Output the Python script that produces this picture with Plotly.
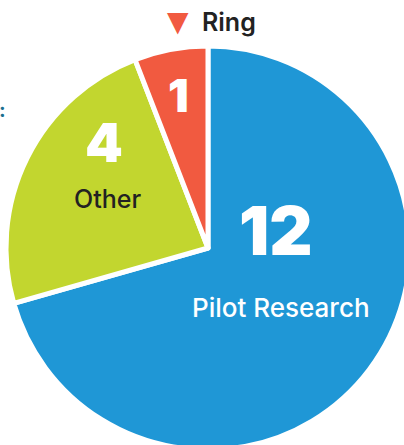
import plotly.graph_objects as go

labels = ["Pilot Research", "Other", "Ring"]
values = [12, 4, 1]
colors = ["#1F97D6", "#C2D62F", "#F15A40"]

W, H = 420, 500
R = 202  # pie radius in px
CX, CY = 208, 248  # pie centre in px from top-left

fig = go.Figure()
fig.add_trace(go.Pie(
    labels=labels, values=values, sort=False, direction="clockwise", rotation=0,
    marker=dict(colors=colors, line=dict(color="white", width=5)),
    textinfo="none", hoverinfo="label+value", showlegend=False,
    domain=dict(x=[(CX - R) / W, (CX + R) / W], y=[(H - CY - R) / H, (H - CY + R) / H]),
))

def px(x, y):
    return x / W, 1 - y / H

num_font = "Inter, sans-serif"
lab_font = "Inter, sans-serif"
anns = []
# Pilot Research
x, y = px(276, 231)
anns.append(dict(x=x, y=y, text=str(values[0]), font=dict(family=num_font, size=67, weight=900, color="white")))
x, y = px(281, 307)
anns.append(dict(x=x, y=y, text=labels[0], font=dict(family=lab_font, size=26, weight=500, color="white")))
# Other
x, y = px(104, 142)
anns.append(dict(x=x, y=y, text=str(values[1]), font=dict(family=num_font, size=54, weight=900, color="white")))
x, y = px(107, 199)
anns.append(dict(x=x, y=y, text=labels[1], font=dict(family=lab_font, size=25, weight=500, color="#222222")))
# Ring
x, y = px(178, 95)
anns.append(dict(x=x, y=y, text=str(values[2]), font=dict(family=num_font, size=46, weight=900, color="white")))
x, y = px(178, 21)
anns.append(dict(x=x, y=y, text="▼", font=dict(family="DejaVu Sans", size=28, color="#F15A40")))
x, y = px(229, 22)
anns.append(dict(x=x, y=y, text=labels[2], font=dict(family=lab_font, size=25, weight=600, color="#222222")))
# stray colon at the left edge
x, y = px(2, 110)
anns.append(dict(x=x, y=y, text=":", font=dict(family=lab_font, size=20, weight=700, color="#1B6F8F")))

for a in anns:
    a.update(xref="paper", yref="paper", showarrow=False, xanchor="center", yanchor="middle")

fig.update_layout(
    width=W, height=H, margin=dict(l=0, r=0, t=0, b=0),
    paper_bgcolor="white", plot_bgcolor="white", annotations=anns,
)

fig.write_html("out.html", config={"displayModeBar": False},
               post_script="document.body.style.margin='0';document.body.style.overflow='hidden';document.documentElement.style.overflow='hidden';")
